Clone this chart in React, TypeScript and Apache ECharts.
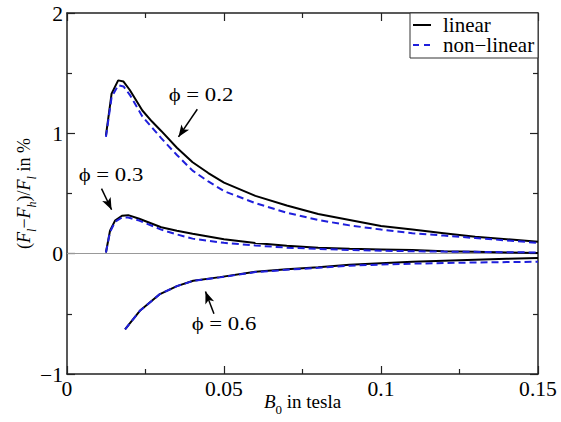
import React, { useEffect, useRef } from "react";
import * as echarts from "echarts";

const b02 = [0.0124, 0.0142, 0.0163, 0.018, 0.02, 0.024, 0.027, 0.03, 0.035, 0.04, 0.045, 0.05, 0.06, 0.07, 0.08, 0.09, 0.1, 0.11, 0.12, 0.13, 0.14, 0.15];
const lin02 = [0.98, 1.33, 1.44, 1.43, 1.36, 1.19, 1.1, 1.02, 0.88, 0.76, 0.67, 0.59, 0.48, 0.4, 0.33, 0.28, 0.23, 0.2, 0.17, 0.14, 0.12, 0.1];
const nl02 = [0.97, 1.3, 1.4, 1.39, 1.32, 1.14, 1.05, 0.96, 0.82, 0.69, 0.6, 0.52, 0.42, 0.34, 0.28, 0.235, 0.2, 0.17, 0.15, 0.13, 0.11, 0.09];

const b03 = [0.0124, 0.0137, 0.0153, 0.0175, 0.0195, 0.023, 0.03, 0.035, 0.04, 0.05, 0.06, 0.07, 0.08, 0.09, 0.1, 0.11, 0.12, 0.13, 0.14, 0.15];
const lin03 = [0.01, 0.19, 0.275, 0.315, 0.32, 0.29, 0.22, 0.19, 0.165, 0.12, 0.088, 0.065, 0.05, 0.04, 0.035, 0.03, 0.02, 0.015, 0.01, 0.005];
const nl03 = [0.01, 0.18, 0.265, 0.3, 0.3, 0.275, 0.2, 0.16, 0.125, 0.09, 0.068, 0.05, 0.04, 0.03, 0.025, 0.02, 0.017, 0.015, 0.012, 0.01];

const b06 = [0.0185, 0.02, 0.0232, 0.0296, 0.035, 0.0402, 0.0487, 0.06, 0.07, 0.08, 0.09, 0.1, 0.11, 0.12, 0.13, 0.14, 0.15];
const lin06 = [-0.63, -0.58, -0.475, -0.336, -0.27, -0.225, -0.195, -0.15, -0.13, -0.112, -0.092, -0.08, -0.068, -0.058, -0.05, -0.043, -0.037];
const nl06 = [-0.63, -0.58, -0.475, -0.336, -0.27, -0.226, -0.197, -0.153, -0.134, -0.118, -0.1, -0.09, -0.083, -0.078, -0.073, -0.07, -0.067];

const xTickValues = [0, 0.05, 0.1, 0.15];
const xTickLabels = ["0", "0.05", "0.1", "0.15"];
const yTickValues = [-1, 0, 1, 2];
const yTickLabels = ["\u22121", "0", "1", "2"];
const legendNames = ["linear", "non\u2212linear"];

const xTicks = { min: 0, max: 0.15, interval: 0.05 };
const yTicks = { min: -1, max: 2, interval: 1 };

// annotation arrows in data coords: [tailX, tailY, headX, headY]
const arrows = [
  [0.0415, 1.2, 0.0355, 0.97],
  [0.011, 0.54, 0.0142, 0.365],
  [0.0468, -0.5, 0.0441, -0.315],
];
const labels = ["\u03D5 = 0.2", "\u03D5 = 0.3", "\u03D5 = 0.6"];

const FONT = "Liberation Serif";
const BLACK = "#000";
const BLUE = "#1f1fdc";

function zip(xs: number[], ys: number[]) {
  return xs.map((x, i) => [x, ys[i]]);
}

export default function App() {
  const ref = useRef<HTMLDivElement>(null);
  useEffect(() => {
    const chart = echarts.init(ref.current!, null, { renderer: "svg" });
    const axisLine = { show: true, onZero: false, lineStyle: { color: "#222", width: 1.5 } };
    const tick = { show: true, inside: true, length: 8, lineStyle: { color: "#222", width: 1.2 } };
    const minor = { show: true, splitNumber: 2, length: 5, lineStyle: { color: "#222", width: 1.2 } };
    const linStyle = { color: BLACK, width: 2, type: "solid" as const };
    const nlStyle = { color: BLUE, width: 2, type: [7, 4] as any };
    const mkSeries = (name: string, data: number[][], ls: any, extra: any = {}) => ({
      type: "line",
      name,
      data,
      showSymbol: false,
      symbol: "none",
      lineStyle: ls,
      itemStyle: { color: ls.color },
      silent: true,
      z: name === legendNames[0] ? 3 : 4,
      ...extra,
    });
    const axisCommon = { type: "value", axisLine, axisTick: tick, minorTick: minor, splitLine: { show: false }, axisLabel: { show: false } };
    chart.setOption({
      animation: false,
      grid: { left: 67, right: 23, top: 13, bottom: 48, outerBoundsMode: "none", containLabel: false },
      xAxis: [
        { ...axisCommon, ...xTicks },
        { ...axisCommon, ...xTicks, position: "top" },
      ],
      yAxis: [
        { ...axisCommon, ...yTicks },
        { ...axisCommon, ...yTicks, position: "right" },
      ],
      series: [
        mkSeries(legendNames[0], zip(b02, lin02), linStyle, {
          markLine: {
            silent: true,
            symbol: ["none", "none"],
            label: { show: false },
            lineStyle: { color: "#999", width: 1, type: "solid" },
            data: [{ yAxis: 0 }],
            z: 1,
          },
        }),
        mkSeries(legendNames[0], zip(b03, lin03), linStyle),
        mkSeries(legendNames[0], zip(b06, lin06), linStyle),
        mkSeries(legendNames[1], zip(b02, nl02), nlStyle),
        mkSeries(legendNames[1], zip(b03, nl03), nlStyle),
        mkSeries(legendNames[1], zip(b06, nl06), nlStyle),
        {
          type: "line",
          name: "arrows",
          data: [],
          silent: true,
          markLine: {
            silent: true,
            symbol: ["none", "arrow"],
            symbolSize: [7, 12],
            label: { show: false },
            lineStyle: { color: BLACK, width: 1.5, type: "solid" },
            data: arrows.map((a) => [{ coord: [a[0], a[1]] }, { coord: [a[2], a[3]] }]),
          },
        },
      ],
    });

    const px = (v: number) => chart.convertToPixel({ xAxisIndex: 0 }, v) as number;
    const py = (v: number) => chart.convertToPixel({ yAxisIndex: 0 }, v) as number;
    const x0 = px(xTicks.min);
    const x1 = px(xTicks.max);
    const yTop = py(yTicks.max);
    const yBot = py(yTicks.min);

    const txt = (text: string, x: number, y: number, size: number, align: string, va: string, scaleX = 1) => ({
      type: "text",
      x,
      y,
      scaleX,
      z: 10,
      style: { text, fontFamily: FONT, fontSize: size, fill: BLACK, align, verticalAlign: va },
    });

    const xLabelEls = xTickValues.map((v, i) => txt(xTickLabels[i], px(v), yBot + 15, 20, "center", "middle", 1.08));
    const yLabelEls = yTickValues.map((v, i) => txt(yTickLabels[i], x0 - 4, py(v) + 1, 20, "right", "middle", 1.08));

    // legend box (top-right corner of the plot)
    const lgL = x1 - 128;
    const lgT = yTop;
    const legendEls = [
      { type: "rect", shape: { x: lgL, y: lgT, width: 128, height: 45 }, style: { fill: "#fff", stroke: "#333", lineWidth: 1 }, z: 9 },
      { type: "line", shape: { x1: lgL + 3, y1: lgT + 12, x2: lgL + 21, y2: lgT + 12 }, style: { stroke: BLACK, lineWidth: 2 }, z: 10 },
      { type: "line", shape: { x1: lgL + 3, y1: lgT + 32, x2: lgL + 23, y2: lgT + 32 }, style: { stroke: BLUE, lineWidth: 2, lineDash: [6, 5] }, z: 10 },
      txt(legendNames[0], lgL + 33, lgT + 12, 20, "left", "middle", 1.05),
      txt(legendNames[1], lgL + 33, lgT + 32, 20, "left", "middle", 1.05),
    ];

    chart.setOption({
      graphic: [
        ...xLabelEls,
        ...yLabelEls,
        ...legendEls,
        txt(labels[0], 201, 95, 19, "center", "middle", 1.2),
        txt(labels[1], 111, 175, 19, "center", "middle", 1.2),
        txt(labels[2], 224, 324, 19, "center", "middle", 1.2),
        {
          type: "text",
          x: (x0 + x1) / 2,
          y: 404,
          style: {
            text: "{i|B}{s|0}{t| in tesla}",
            align: "center",
            verticalAlign: "middle",
            rich: {
              i: { fontFamily: FONT, fontSize: 19, fontStyle: "italic", fill: BLACK, verticalAlign: "bottom", padding: [0, 0, 5, 0] },
              s: { fontFamily: FONT, fontSize: 13, fill: BLACK, verticalAlign: "bottom" },
              t: { fontFamily: FONT, fontSize: 19, fill: BLACK, verticalAlign: "bottom", padding: [0, 0, 5, 0] },
            },
          },
        },
        {
          type: "text",
          x: 26,
          y: (yTop + yBot) / 2,
          rotation: Math.PI / 2,
          style: {
            text: "{p|(}{i|F}{s|l}{p|\u2212}{i|F}{s|h}{p|)/}{i|F}{s|l}{p| in %}",
            align: "center",
            verticalAlign: "middle",
            rich: {
              p: { fontFamily: FONT, fontSize: 18, fill: BLACK, verticalAlign: "bottom", padding: [0, 0, 5, 0] },
              i: { fontFamily: FONT, fontSize: 18, fontStyle: "italic", fill: BLACK, verticalAlign: "bottom", padding: [0, 0, 5, 0] },
              s: { fontFamily: FONT, fontSize: 12, fontStyle: "italic", fill: BLACK, verticalAlign: "bottom" },
            },
          },
        },
      ],
    });
    return () => chart.dispose();
  }, []);
  return <div ref={ref} style={{ width: 561, height: 422, position: "absolute", left: 0, top: 0 }} />;
}
